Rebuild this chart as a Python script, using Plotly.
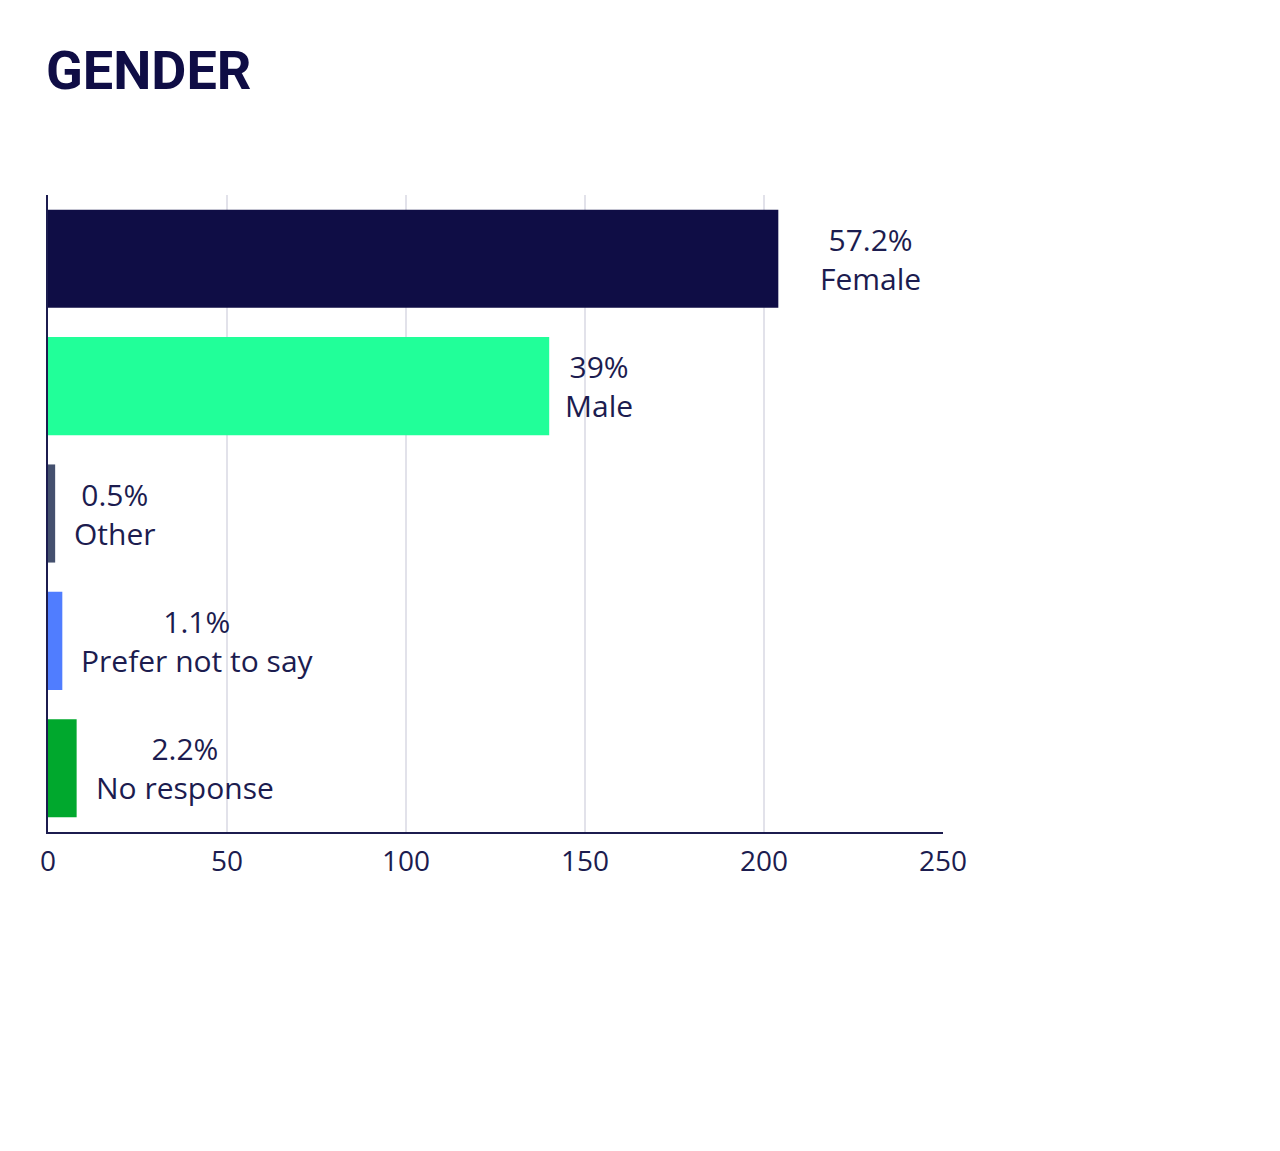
import plotly.graph_objects as go

categories = ["Female", "Male", "Other", "Prefer not to say", "No response"]
counts = [204, 140, 2, 4, 8]
percent_labels = ["57.2%", "39%", "0.5%", "1.1%", "2.2%"]
bar_colors = ["#0f0d45", "#21ff99", "#44506e", "#507dff", "#00a82d"]
x_ticks = [0, 50, 100, 150, 200, 250]

TEXT = "#1c1c4f"
FONT = "Open Sans"

fig = go.Figure()
fig.add_trace(go.Bar(
    y=categories, x=counts, orientation="h",
    marker=dict(color=bar_colors, line=dict(width=0)),
    hoverinfo="skip",
))

label_shifts = [40, 14, 17, 17, 17]
for cat, val, pct, sh in zip(categories, counts, percent_labels, label_shifts):
    fig.add_annotation(
        x=val, y=cat, xref="x", yref="y",
        text=f"{pct}<br>{cat}", showarrow=False,
        xanchor="left", yanchor="middle", xshift=sh, align="center",
        font=dict(family=FONT, size=30, color=TEXT),
    )

fig.add_annotation(
    xref="paper", yref="paper", x=-0.004, y=1.195,
    xanchor="left", yanchor="middle", showarrow=False,
    text="<b>GENDER</b>",
    font=dict(family="Roboto", size=54, color="#0f0d45"),
)

fig.update_layout(
    width=1280, height=1151,
    margin=dict(l=48, r=337, t=195, b=319),
    paper_bgcolor="white", plot_bgcolor="white",
    showlegend=False, bargap=0.23,
    font=dict(family=FONT, color=TEXT),
)
fig.update_xaxes(
    range=[0, 250], tickvals=x_ticks, ticktext=[str(t) for t in x_ticks],
    showgrid=True, gridcolor="#e2e2ea", gridwidth=2,
    showline=True, linecolor="#1c1c4f", linewidth=2,
    zeroline=False, ticks="", ticklabelstandoff=3,
    tickfont=dict(family=FONT, size=28, color=TEXT),
)
fig.update_yaxes(
    autorange="reversed", showticklabels=False, ticks="",
    showline=True, linecolor="#1c1c4f", linewidth=2,
    showgrid=False, zeroline=False,
)

fig.write_html("out.html")
